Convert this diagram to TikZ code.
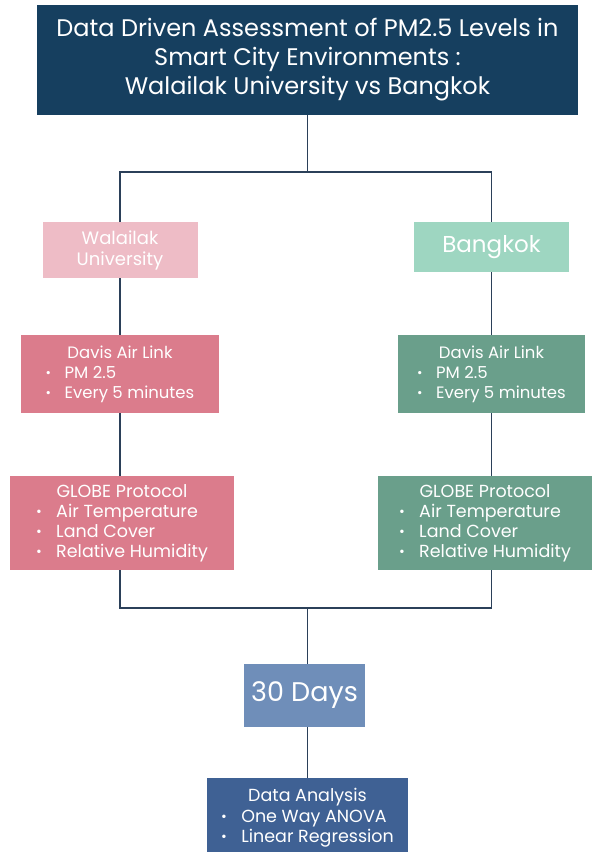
\documentclass[tikz,border=0pt]{standalone}
\usepackage{fontspec}
\setmainfont{Poppins}
\definecolor{navy}{HTML}{163F5F}
\definecolor{linecol}{HTML}{2B4059}
\definecolor{pinklight}{HTML}{EEBCC6}
\definecolor{mintlight}{HTML}{9ED6C1}
\definecolor{pinkmid}{HTML}{DB7C8C}
\definecolor{greenmid}{HTML}{6A9F8B}
\definecolor{steel}{HTML}{6F8EB9}
\definecolor{darksteel}{HTML}{3F6194}
\newcommand{\itm}{\makebox[1.15em][l]{\raisebox{0.1ex}{\scalebox{0.8}{•}}}}
\newcommand{\blist}[2]{\begin{tabular}{@{}l@{}}\multicolumn{1}{c}{#1}\\#2\end{tabular}}
\tikzset{
  box/.style={rectangle,inner sep=0pt,text=white,align=center},
  link/.style={draw=linecol,line width=1.3pt}
}
\begin{document}
\begin{tikzpicture}[x=1pt,y=-1pt,every node/.style={font=\fontsize{16.5}{20}\selectfont}]
    \useasboundingbox[fill=white] (0,0) rectangle (595,852);
    % title
    \node[box,fill=navy,minimum width=541pt,minimum height=110pt,font=\fontsize{24}{29}\selectfont] (title) at (307.5,60)
        {Data Driven Assessment of PM2.5 Levels in\\Smart City Environments :\\Walailak University vs Bangkok};
    % sites
    \node[box,fill=pinklight,minimum width=155pt,minimum height=56pt,font=\fontsize{18}{21}\selectfont] (wu) at (120,250) {Walailak\\University};
    \node[box,fill=mintlight,minimum width=155pt,minimum height=50pt,font=\fontsize{23}{26}\selectfont] (bk) at (491.5,247) {Bangkok};
    % sensors
    \node[box,fill=pinkmid,minimum width=198pt,minimum height=78pt] (dl) at (120,374)
        {\blist{Davis Air Link}{\itm PM 2.5\\\itm Every 5 minutes}};
    \node[box,fill=greenmid,minimum width=187pt,minimum height=78pt] (dr) at (491.5,374)
        {\blist{Davis Air Link}{\itm PM 2.5\\\itm Every 5 minutes}};
    % globe
    \node[box,fill=pinkmid,minimum width=224pt,minimum height=94pt,font=\fontsize{17.5}{20}\selectfont] (gl) at (122,523)
        {\blist{GLOBE Protocol}{\itm Air Temperature\\\itm Land Cover\\\itm Relative Humidity}};
    \node[box,fill=greenmid,minimum width=214pt,minimum height=94pt,font=\fontsize{17.5}{20}\selectfont] (gr) at (485,523)
        {\blist{GLOBE Protocol}{\itm Air Temperature\\\itm Land Cover\\\itm Relative Humidity}};
    % period and analysis
    \node[box,fill=steel,minimum width=121pt,minimum height=63pt,font=\fontsize{27}{30}\selectfont] (days) at (304.5,695.5) {30 Days};
    \node[box,fill=darksteel,minimum width=201pt,minimum height=80pt,font=\fontsize{17.5}{20.5}\selectfont] (ana) at (307.5,818)
        {\blist{Data Analysis}{\itm One Way ANOVA\\\itm Linear Regression}};
    % connectors
    \coordinate (split) at (307.5,172);
    \coordinate (merge) at (307.5,608);
    \draw[link] (title) -- (split);
    \draw[link] (wu.north) |- (split) -| (bk.north);
    \draw[link] (wu) -- (dl);
    \draw[link] (bk) -- (dr);
    \draw[link] (dl.south) -- (dl.south |- gl.north);
    \draw[link] (dr.south) -- (dr.south |- gr.north);
    \draw[link] (gl.south -| dl.south) |- (merge) -| (gr.south -| dr.south);
    \draw[link] (merge) -- (merge |- days.north);
    \draw[link] (days.south -| merge) -- (merge |- ana.north);
\end{tikzpicture}
\end{document}
